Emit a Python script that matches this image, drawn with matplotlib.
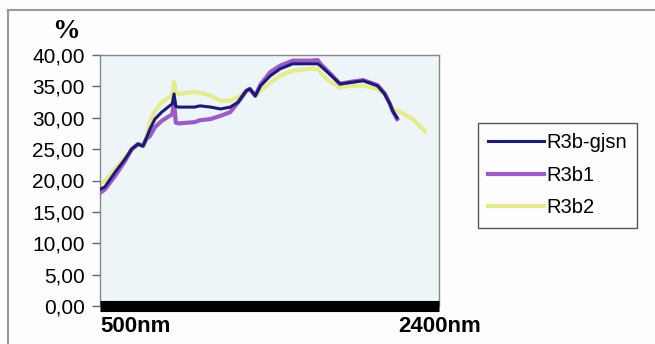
import matplotlib.pyplot as plt
from matplotlib.lines import Line2D

# reflectance spectra (%), wavelength in nm
wl = [500, 528, 584, 640, 678, 713, 741, 762, 780, 808, 846, 890, 905, 915, 925,
      940, 1030, 1060, 1120, 1175, 1230, 1275, 1320, 1340, 1370, 1400, 1455, 1510,
      1580, 1680, 1720, 1735, 1785, 1845, 1900, 1975, 2055, 2095, 2125, 2140, 2165]

r3b_gjsn = [18.6, 19.0, 21.3, 23.4, 25.0, 25.8, 25.5, 26.9, 28.2, 29.8, 30.9, 31.9, 32.2, 33.8, 31.8,
            31.7, 31.7, 31.9, 31.7, 31.4, 31.7, 32.5, 34.3, 34.6, 33.5, 35.1, 36.7, 37.8,
            38.6, 38.6, 38.6, 38.3, 37.0, 35.4, 35.6, 35.9, 35.1, 33.8, 32.2, 31.1, 30.0]

r3b1 = [18.0, 18.6, 20.7, 23.1, 25.0, 25.8, 25.5, 26.7, 27.1, 28.5, 29.5, 30.3, 30.5, 32.5, 29.2,
        29.1, 29.3, 29.6, 29.8, 30.3, 30.9, 32.5, 34.3, 34.6, 33.5, 35.3, 37.3, 38.3,
        39.1, 39.1, 39.2, 38.6, 37.2, 35.4, 35.7, 36.0, 35.2, 33.9, 32.2, 31.1, 29.8]

wl_b2 = [500, 528, 584, 640, 678, 713, 741, 762, 780, 808, 846, 890, 905, 915, 925,
         940, 1030, 1060, 1120, 1175, 1230, 1275, 1320, 1340, 1370, 1400, 1455, 1510,
         1580, 1680, 1720, 1735, 1785, 1845, 1900, 1975, 2055, 2095, 2125, 2140, 2170,
         2220, 2250, 2280, 2320]

r3b2 = [19.6, 19.9, 21.8, 23.7, 25.0, 25.8, 25.5, 27.2, 29.3, 31.1, 32.5, 33.3, 33.5, 35.7, 33.9,
        33.8, 34.1, 34.0, 33.5, 32.7, 32.7, 33.3, 34.3, 34.6, 33.5, 34.3, 35.6, 36.7,
        37.5, 37.8, 37.8, 37.2, 35.8, 34.8, 35.1, 35.1, 34.6, 33.8, 32.2, 31.3, 31.1,
        30.3, 29.8, 29.0, 27.9]

yticks = [0, 5, 10, 15, 20, 25, 30, 35, 40]
ytick_labels = ['0,00', '5,00', '10,00', '15,00', '20,00', '25,00', '30,00', '35,00', '40,00']

plt.rcParams['font.family'] = ['Liberation Sans', 'DejaVu Sans']

fig = plt.figure(figsize=(6.55, 3.44), dpi=100, facecolor='#fdfdfd')
ax = fig.add_axes([100 / 655, 1 - 306 / 344, 339 / 655, 251 / 344])
ax.set_facecolor('#edf5f8')

ax.plot(wl_b2, r3b2, color='#e4ec8c', lw=3.0, label='R3b2', zorder=2)
ax.plot(wl, r3b1, color='#9b5cc6', lw=3.0, label='R3b1', zorder=3)
ax.plot(wl, r3b_gjsn, color='#1d1a78', lw=2.2, label='R3b-gjsn', zorder=4)

ax.set_xlim(500, 2400)
ax.set_ylim(0, 40)
ax.set_xticks([])
ax.set_yticks(yticks)
ax.set_yticklabels(ytick_labels, fontsize=15)
ax.tick_params(axis='y', length=6, width=1, color='#666666', pad=5, direction='out')

for side in ['left', 'top', 'right']:
    ax.spines[side].set_color('#888888')
    ax.spines[side].set_linewidth(1)
ax.spines['bottom'].set_color('black')
ax.spines['bottom'].set_linewidth(8)
ax.spines['bottom'].set_capstyle('butt')

# wavelength range labels under the axis
ax.text(0.0, -0.08, '500nm', transform=ax.transAxes, ha='left', va='center',
        fontsize=16, fontweight='bold')
ax.text(298 / 339, -0.08, '2400nm', transform=ax.transAxes, ha='left', va='center',
        fontsize=16, fontweight='bold')

fig.text(66 / 655, 1 - 31 / 344, '%', ha='center', va='center', fontsize=20,
         fontweight='bold', family='Liberation Serif')

handles, labels = ax.get_legend_handles_labels()
order = [2, 1, 0]
leg = fig.legend([handles[i] for i in order], [labels[i] for i in order],
                 loc='upper left', bbox_to_anchor=(478 / 655, 1 - 123 / 344),
                 fontsize=14.5, handlelength=2.8, handletextpad=0.1,
                 labelspacing=0.68, borderpad=0.5, borderaxespad=0,
                 fancybox=False, frameon=True, framealpha=1,
                 facecolor='#fdfdfd', edgecolor='#555555')
leg.get_frame().set_linewidth(1)

# outer chart frame
fig.add_artist(Line2D([8 / 655, 1], [1 - 10 / 344, 1 - 10 / 344],
                      transform=fig.transFigure, color='#999999', lw=1.5))
fig.add_artist(Line2D([8 / 655, 8 / 655], [0, 1 - 10 / 344],
                      transform=fig.transFigure, color='#999999', lw=1.5))

fig.savefig('out.png', dpi=100, facecolor=fig.get_facecolor())
